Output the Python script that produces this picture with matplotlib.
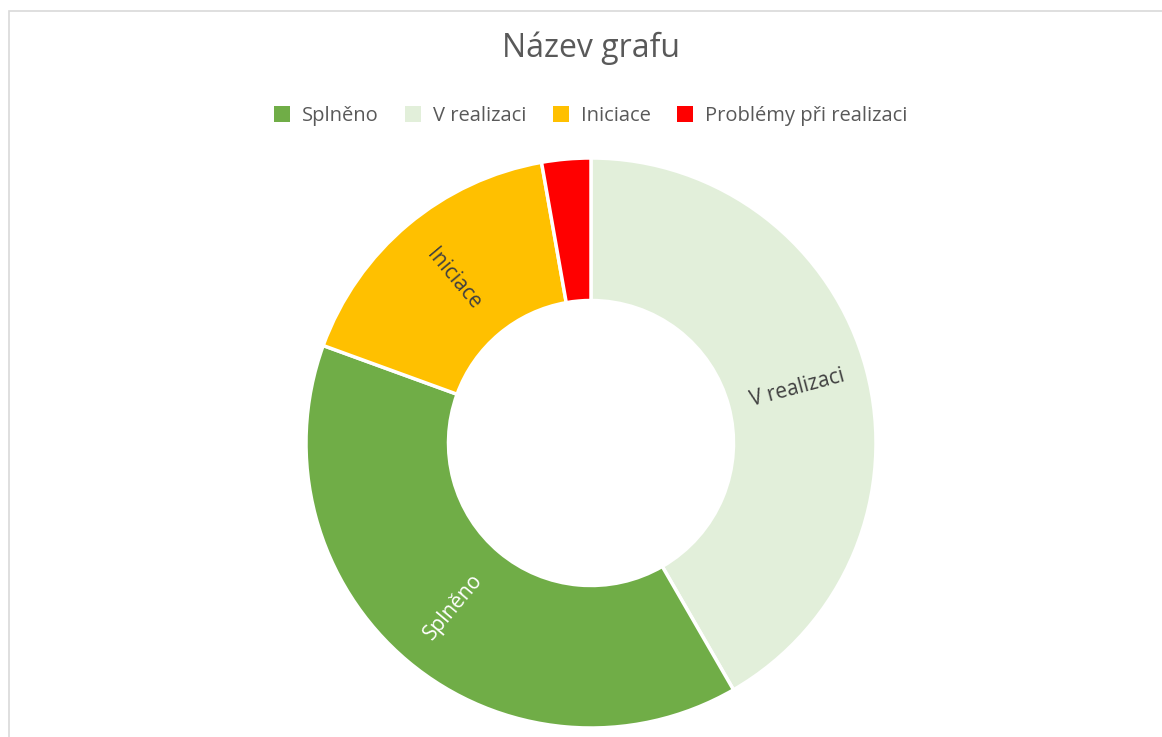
import numpy as np
import matplotlib.pyplot as plt
from matplotlib.patches import Patch, Rectangle

plt.rcParams['font.family'] = ['Open Sans', 'DejaVu Sans']

# data in drawing order (clockwise from the top)
kategorie = ['V realizaci', 'Splněno', 'Iniciace', 'Problémy při realizaci']
hodnoty = [15, 14, 6, 1]
barvy = ['#E2EFDA', '#70AD47', '#FFC000', '#FF0000']
popisky = ['V realizaci', 'Splněno', 'Iniciace', '']
barvy_popisku = ['#404040', 'white', '#404040', '#404040']
# legend order
poradi_legendy = [1, 0, 2, 3]

W, H = 1162, 737
fig = plt.figure(figsize=(W / 100, H / 100), dpi=100)

# chart area border (cut off right and bottom like the screenshot)
fig.add_artist(Rectangle((9 / W, -0.1), 1.2, 1.1 - 11 / H, transform=fig.transFigure,
                         fill=False, edgecolor='#D9D9D9', linewidth=1.2))

cx, cy, r = 591, 443, 285
ax = fig.add_axes([(cx - r) / W, (H - cy - r) / H, 2 * r / W, 2 * r / H])
wedges, _ = ax.pie(hodnoty, colors=barvy, startangle=90, counterclock=False,
                   radius=1, wedgeprops=dict(width=0.5, edgecolor='white', linewidth=2.5))
ax.set_xlim(-1, 1)
ax.set_ylim(-1, 1)
ax.set_aspect('equal')
ax.axis('off')

# labels along the radius, in the middle of the ring
for w, txt, c in zip(wedges, popisky, barvy_popisku):
    if not txt:
        continue
    mid = (w.theta1 + w.theta2) / 2
    rr = 0.75
    x, y = rr * np.cos(np.radians(mid)), rr * np.sin(np.radians(mid))
    rot = mid % 360
    if 90 < rot < 270:
        rot -= 180
    ax.text(x, y, txt, rotation=rot, rotation_mode='anchor', ha='center', va='center',
            fontsize=15, color=c)

fig.text(cx / W, 1 - 48 / H, 'Název grafu', ha='center', va='center', fontsize=23, color='#595959')

handles = [Patch(facecolor=barvy[i], edgecolor='none') for i in poradi_legendy]
fig.legend(handles, [kategorie[i] for i in poradi_legendy], loc='center',
           bbox_to_anchor=(cx / W, 1 - 116 / H), ncol=4,
           frameon=False, fontsize=14.5, handlelength=0.8, handleheight=0.8, handletextpad=0.6,
           columnspacing=1.3, labelcolor='#595959')

fig.savefig('out.png', dpi=100)
